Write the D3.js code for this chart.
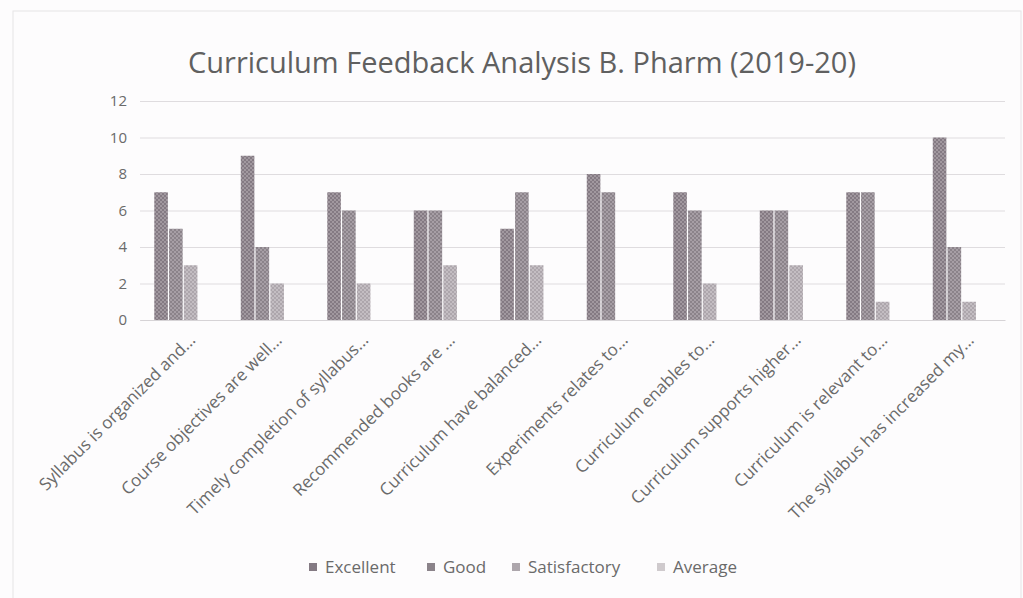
<!DOCTYPE html>
<html>
<head>
<meta charset="utf-8">
<script src="https://cdn.jsdelivr.net/npm/d3@7"></script>
<style>
  body { margin: 0; background: #fdfcfd; }
  svg { font-family: "Open Sans", "Noto Sans", sans-serif; }
</style>
</head>
<body>
<svg id="chart" width="1023" height="598"></svg>
<script>
// chart data
var categories = ["Syllabus is organized and...", "Course objectives are well...",
  "Timely completion of syllabus...", "Recommended books are ...", "Curriculum have balanced...",
  "Experiments relates to...", "Curriculum enables to...", "Curriculum supports higher...",
  "Curriculum is relevant to...", "The syllabus has increased my..."];
var seriesNames = ["Excellent", "Good", "Satisfactory", "Average"];
var excellent = [7, 9, 7, 6, 5, 8, 7, 6, 7, 10];
var good = [5, 4, 6, 6, 7, 7, 6, 6, 7, 4];
var satisfactory = [3, 2, 2, 3, 3, 0, 2, 3, 1, 1];
var average = [0, 0, 0, 0, 0, 0, 0, 0, 0, 0];
var yTicks = [0, 2, 4, 6, 8, 10, 12];

var series = [excellent, good, satisfactory, average];
var fills = [["#847a83", "#a1989f"], ["#8b838a", "#a69ea5"], ["#ada6ac", "#c3bdc2"], ["#cfcacd", "#dedade"]];

var svg = d3.select("#chart");
var margin = {left: 140, right: 18, top: 101, bottom: 278};
var width = 1023 - margin.left - margin.right;
var height = 598 - margin.top - margin.bottom;

// checker patterns, one per series
var defs = svg.append("defs");
fills.forEach(function(f, i) {
  var p = defs.append("pattern").attr("id", "pat" + i)
    .attr("width", 4).attr("height", 4).attr("patternUnits", "userSpaceOnUse");
  p.append("rect").attr("width", 4).attr("height", 4).attr("fill", f[0]);
  p.append("rect").attr("width", 2).attr("height", 2).attr("fill", f[1]);
  p.append("rect").attr("x", 2).attr("y", 2).attr("width", 2).attr("height", 2).attr("fill", f[1]);
});

// outer frame
svg.append("rect").attr("x", 13).attr("y", 11).attr("width", 1008).attr("height", 590)
  .attr("fill", "none").attr("stroke", "#e6e3e6");

svg.append("text").attr("x", 522).attr("y", 73).attr("text-anchor", "middle")
  .attr("font-size", 29).attr("fill", "#606060")
  .text("Curriculum Feedback Analysis B. Pharm (2019-20)");

var x0 = d3.scaleBand().domain(categories).range([0, width]).paddingInner(0.33).paddingOuter(0.165);
var x1 = d3.scaleBand().domain(seriesNames).range([0, x0.bandwidth()]).paddingInner(0.08);
var y = d3.scaleLinear().domain([0, 12]).range([height, 0]);

var g = svg.append("g").attr("transform", "translate(" + margin.left + "," + margin.top + ")");

// grid
g.append("g").call(d3.axisLeft(y).tickValues(yTicks).tickSize(-width).tickFormat(""))
  .call(function(s) {
    s.select(".domain").remove();
    s.selectAll("line").attr("stroke", "#dfdcdf");
  });

// y labels
g.append("g").call(d3.axisLeft(y).tickValues(yTicks).tickSize(0).tickPadding(13))
  .call(function(s) {
    s.select(".domain").remove();
    s.selectAll("text").attr("font-size", 15).attr("fill", "#6a6a6a").attr("font-family", "Open Sans, sans-serif");
  });

// bars
series.forEach(function(vals, si) {
  g.append("g").selectAll("rect").data(vals).enter().append("rect")
    .attr("x", function(d, i) { return x0(categories[i]) + x1(seriesNames[si]); })
    .attr("y", function(d) { return y(d); })
    .attr("width", x1.bandwidth())
    .attr("height", function(d) { return height - y(d); })
    .attr("fill", "url(#pat" + si + ")");
});

// x axis
g.append("g").attr("transform", "translate(0," + height + ")")
  .call(d3.axisBottom(x0).tickSize(0).tickPadding(0))
  .call(function(s) {
    s.select(".domain").attr("stroke", "#d6d3d6");
    s.selectAll("text")
      .attr("font-size", 17).attr("fill", "#6a6a6a").attr("font-family", "Open Sans, sans-serif")
      .attr("text-anchor", "end")
      .attr("y", 0)
      .attr("dy", "0.35em")
      .attr("transform", "translate(9,17) rotate(-45)");
  });

// legend
var legendX = [309, 427, 512, 657];
var lg = svg.append("g").attr("transform", "translate(0,567)");
seriesNames.forEach(function(n, i) {
  lg.append("rect").attr("x", legendX[i]).attr("y", -4).attr("width", 8).attr("height", 8)
    .attr("fill", fills[i][0]);
  lg.append("text").attr("x", legendX[i] + 16).attr("y", 0).attr("dy", "0.35em")
    .attr("font-size", 17).attr("fill", "#6a6a6a").text(n);
});
</script>
</body>
</html>
